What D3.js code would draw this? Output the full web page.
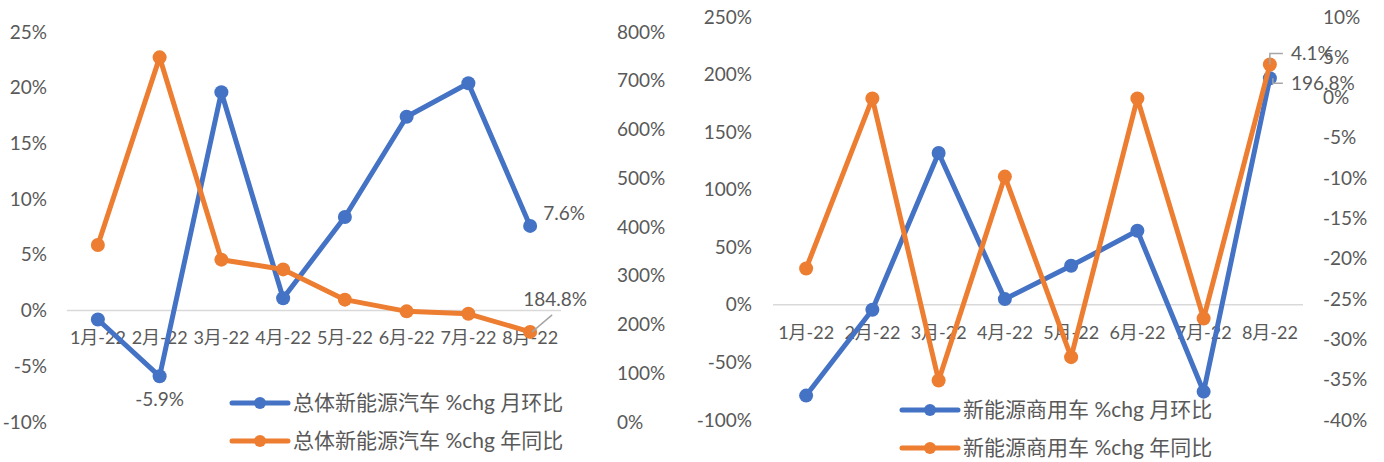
<!DOCTYPE html>
<html>
<head>
<meta charset="utf-8">
<script src="https://cdn.jsdelivr.net/npm/d3@7"></script>
<style>
  body { margin: 0; background: #fff; }
  svg text { font-family: "Lato", "Noto Sans CJK SC", sans-serif; fill: #595959; }
</style>
</head>
<body>
<svg width="1384" height="462"></svg>
<script>
// categories shared by both panels
let months = ["1月-22", "2月-22", "3月-22", "4月-22", "5月-22", "6月-22", "7月-22", "8月-22"];

// left panel: total NEV
let totalMoM = [-0.8, -5.9, 19.6, 1.1, 8.4, 17.4, 20.4, 7.6];
let totalYoY = [363, 748, 333, 313, 251, 227, 222, 184.8];
let totalLeftTicks = [-10, -5, 0, 5, 10, 15, 20, 25];
let totalRightTicks = [0, 100, 200, 300, 400, 500, 600, 700, 800];

// right panel: commercial NEV
let commMoM = [-78.8, -4.3, 131.9, 5.0, 33.9, 64.3, -75.4, 196.8];
let commYoY = [-21.2, -0.1, -35.1, -9.8, -32.2, -0.1, -27.4, 4.1];
let commLeftTicks = [-100, -50, 0, 50, 100, 150, 200, 250];
let commRightTicks = [-40, -35, -30, -25, -20, -15, -10, -5, 0, 5, 10];

let blue = '#4472C4';
let orange = '#ED7D31';
let svg = d3.select('svg');

function drawPanel(p) {
  let g = svg.append('g');
  let x = d3.scaleBand().domain(months).range([p.x0, p.x1]);
  let yL = d3.scaleLinear().domain(d3.extent(p.leftTicks)).range([p.yBottom, p.yTop]);
  let yR = d3.scaleLinear().domain(d3.extent(p.rightTicks)).range([p.yBottom, p.yTop]);

  // zero line
  g.append('line')
    .attr('x1', p.x0).attr('x2', p.x1)
    .attr('y1', yL(0)).attr('y2', yL(0))
    .attr('stroke', '#D9D9D9').attr('stroke-width', 1.5);

  let axL = d3.axisLeft(yL).tickValues(p.leftTicks).tickFormat(d => d + '%').tickSize(0).tickPadding(0);
  g.append('g').attr('transform', `translate(${p.leftLabelX},0)`).call(axL)
    .call(s => s.select('.domain').remove())
    .selectAll('text').attr('font-size', 19).attr('fill', '#595959');

  let axR = d3.axisRight(yR).tickValues(p.rightTicks).tickFormat(d => d + '%').tickSize(0).tickPadding(0);
  g.append('g').attr('transform', `translate(${p.rightLabelX},0)`).call(axR)
    .call(s => s.select('.domain').remove())
    .selectAll('text').attr('font-size', 19).attr('fill', '#595959');

  // category labels
  let axX = d3.axisBottom(x).tickSize(0).tickPadding(0);
  g.append('g').attr('transform', `translate(0,${p.xLabelY})`).call(axX)
    .call(s => s.select('.domain').remove())
    .selectAll('text').attr('font-size', 18).attr('dy', '0.35em').attr('fill', '#595959');

  let cx = d => x(d) + x.bandwidth() / 2;
  let series = [
    { vals: p.mom, y: yL, color: blue },
    { vals: p.yoy, y: yR, color: orange }
  ];
  series.forEach(s => {
    let line = d3.line().x((d, i) => cx(months[i])).y(d => s.y(d));
    g.append('path').attr('d', line(s.vals))
      .attr('fill', 'none').attr('stroke', s.color)
      .attr('stroke-width', 5).attr('stroke-linejoin', 'round');
    g.selectAll(null).data(s.vals).enter().append('circle')
      .attr('cx', (d, i) => cx(months[i])).attr('cy', d => s.y(d))
      .attr('r', 7).attr('fill', s.color);
  });

  // legend
  p.legend.forEach((name, i) => {
    let ly = p.legendY + i * 38;
    let c = i == 0 ? blue : orange;
    g.append('line').attr('x1', p.legendX).attr('x2', p.legendX + 56)
      .attr('y1', ly).attr('y2', ly).attr('stroke', c).attr('stroke-width', 5)
      .attr('stroke-linecap', 'round');
    g.append('circle').attr('cx', p.legendX + 28).attr('cy', ly).attr('r', 6).attr('fill', c);
    g.append('text').attr('x', p.legendX + 61).attr('y', ly).attr('dy', '0.35em')
      .attr('font-size', 21).text(name);
  });

  return { g, x, yL, yR, cx };
}

// left panel
let a = drawPanel({
  x0: 67, x1: 561, yTop: 32, yBottom: 422,
  leftTicks: totalLeftTicks, rightTicks: totalRightTicks,
  leftLabelX: 47, rightLabelX: 617, xLabelY: 338,
  mom: totalMoM, yoy: totalYoY,
  legendX: 232, legendY: 403,
  legend: ["总体新能源汽车 %chg 月环比", "总体新能源汽车 %chg 年同比"]
});
let last = months.length - 1;
a.g.append('text').attr('x', a.cx(months[1])).attr('y', a.yL(totalMoM[1]) + 23)
  .attr('dy', '0.35em').attr('text-anchor', 'middle').attr('font-size', 19)
  .text(totalMoM[1] + '%');
a.g.append('text').attr('x', a.cx(months[last]) + 13).attr('y', a.yL(totalMoM[last]) - 13)
  .attr('dy', '0.35em').attr('font-size', 19).text(totalMoM[last] + '%');
a.g.append('line')
  .attr('x1', a.cx(months[last]) + 2).attr('y1', a.yR(totalYoY[last]))
  .attr('x2', a.cx(months[last]) + 22).attr('y2', a.yR(totalYoY[last]) - 17)
  .attr('stroke', '#A6A6A6').attr('stroke-width', 1.5);
a.g.append('text').attr('x', a.cx(months[last]) - 7).attr('y', a.yR(totalYoY[last]) - 33)
  .attr('dy', '0.35em').attr('font-size', 19).text(totalYoY[last] + '%');

// right panel
let b = drawPanel({
  x0: 773, x1: 1303, yTop: 17, yBottom: 420,
  leftTicks: commLeftTicks, rightTicks: commRightTicks,
  leftLabelX: 752, rightLabelX: 1323, xLabelY: 333,
  mom: commMoM, yoy: commYoY,
  legendX: 902, legendY: 410,
  legend: ["新能源商用车 %chg 月环比", "新能源商用车 %chg 年同比"]
});
let bx = b.cx(months[last]);
let oy = b.yR(commYoY[last]);
let by = b.yL(commMoM[last]);
b.g.append('path')
  .attr('d', `M${bx},${oy} L${bx},${oy - 11} L${bx + 13},${oy - 11}`)
  .attr('fill', 'none').attr('stroke', '#A6A6A6').attr('stroke-width', 1.5);
b.g.append('text').attr('x', bx + 21).attr('y', oy - 11).attr('dy', '0.35em')
  .attr('font-size', 19).text(commYoY[last] + '%');
b.g.append('path')
  .attr('d', `M${bx + 3},${by} L${bx + 3},${by + 5} L${bx + 13},${by + 5}`)
  .attr('fill', 'none').attr('stroke', '#A6A6A6').attr('stroke-width', 1.5);
b.g.append('text').attr('x', bx + 21).attr('y', by + 5).attr('dy', '0.35em')
  .attr('font-size', 19).text(commMoM[last] + '%');
</script>
</body>
</html>
